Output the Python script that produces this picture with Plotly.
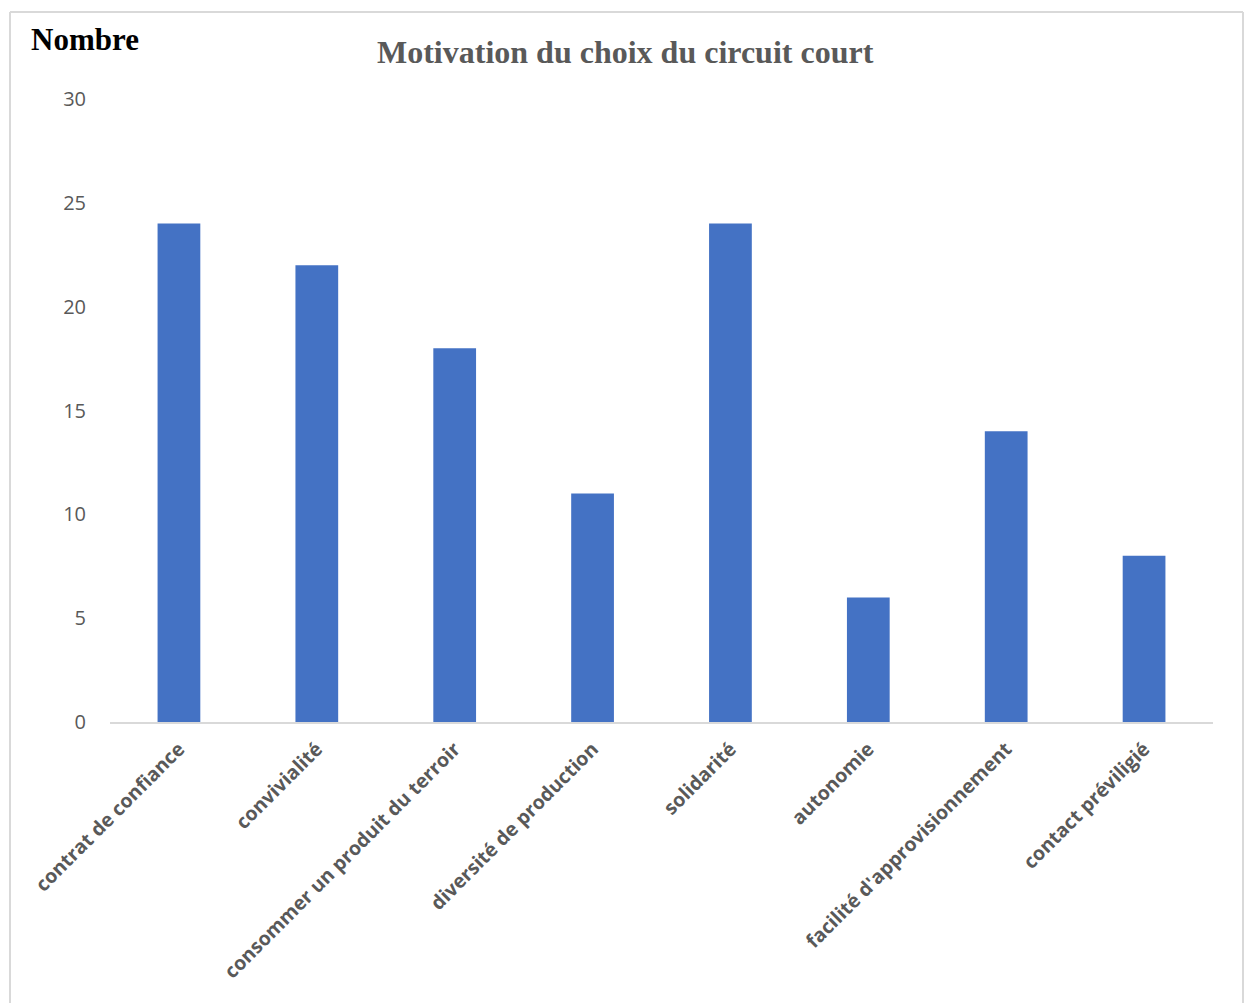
import plotly.graph_objects as go

categories = ["contrat de confiance", "convivialité", "consommer un produit du terroir",
              "diversité de production", "solidarité", "autonomie",
              "facilité d'approvisionnement", "contact préviligié"]
values = [24, 22, 18, 11, 24, 6, 14, 8]
y_ticks = [0, 5, 10, 15, 20, 25, 30]

W, H = 1248, 1003
L, R, T, B = 110, 35, 99, 281
pw, ph = W - L - R, H - T - B

def px(x):
    return (x - L) / pw

def py(y):
    return (H - B - y) / ph

fig = go.Figure(go.Bar(x=categories, y=values, marker_color="#4472C4",
                       marker_line_width=0, width=0.31))

fig.update_layout(
    width=W, height=H,
    margin=dict(l=L, r=R, t=T, b=B),
    plot_bgcolor="white", paper_bgcolor="white",
    showlegend=False,
    bargap=0.69,
    xaxis=dict(showgrid=False, showline=True, linecolor="#D9D9D9", linewidth=2,
               tickangle=-45, ticks="", tickvals=categories, ticklabelstandoff=6,
               ticktext=[f"<b>{c}</b>" for c in categories],
               tickfont=dict(family="Open Sans", size=19.5, color="#595959")),
    yaxis=dict(range=[0, 30], tickvals=y_ticks, showgrid=False, zeroline=False,
               showline=False, ticks="", ticklabelstandoff=23,
               tickfont=dict(family="Open Sans", size=20, color="#595959")),
    annotations=[
        dict(text="<b>Motivation du choix du circuit court</b>", x=px(625), y=py(52),
             xref="paper", yref="paper", showarrow=False, xanchor="center", yanchor="middle",
             font=dict(family="Liberation Serif", size=32, color="#595959")),
        dict(text="<b>Nombre</b>", x=px(29), y=py(40), xref="paper", yref="paper",
             showarrow=False, xanchor="left", yanchor="middle",
             font=dict(family="Liberation Serif", size=31, color="black")),
    ],
    shapes=[
        dict(type="line", xref="paper", yref="paper", x0=px(10), x1=px(1243), y0=py(12), y1=py(12),
             line=dict(color="#D9D9D9", width=2)),
        dict(type="line", xref="paper", yref="paper", x0=px(10), x1=px(10), y0=py(12), y1=py(1010),
             line=dict(color="#D9D9D9", width=2)),
        dict(type="line", xref="paper", yref="paper", x0=px(1243), x1=px(1243), y0=py(12), y1=py(1010),
             line=dict(color="#D9D9D9", width=2)),
    ],
)

fig.write_html("out.html")
